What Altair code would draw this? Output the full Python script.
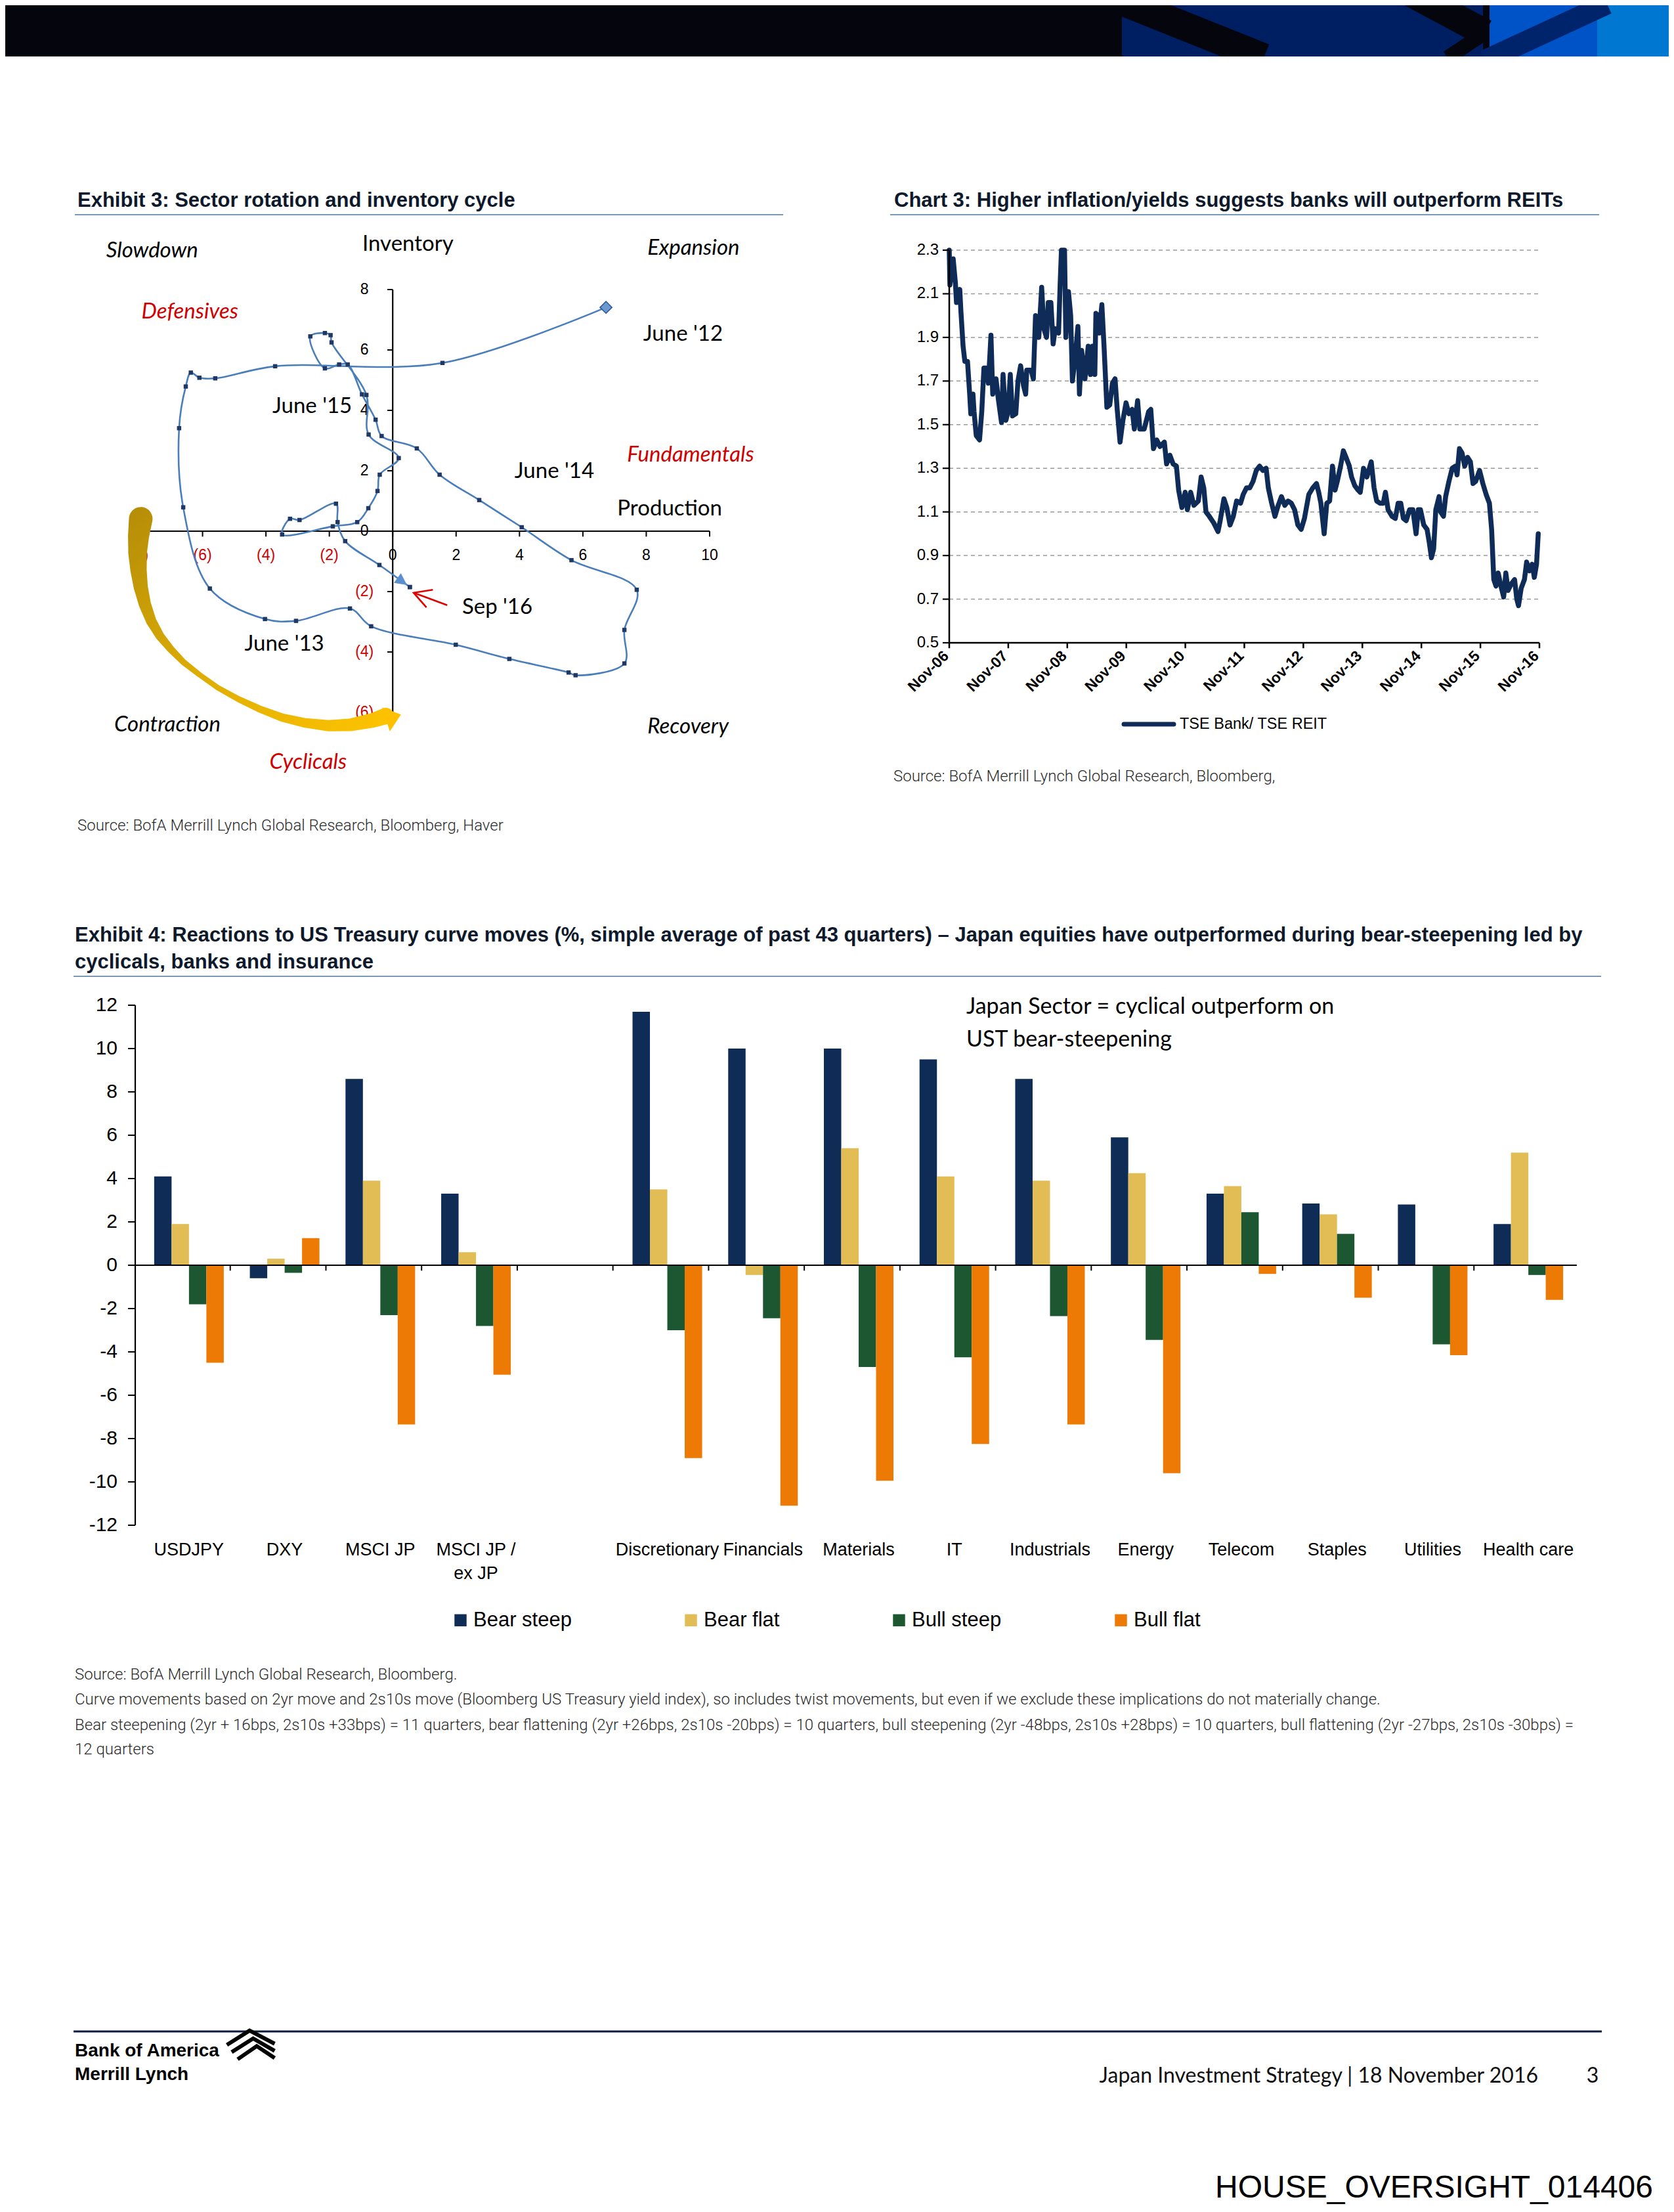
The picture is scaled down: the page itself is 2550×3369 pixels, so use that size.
import altair as alt
import pandas as pd

MARGIN = 8


def P(v):
    """page pixel -> chart pixel"""
    return v - MARGIN


SANS = "Liberation Sans"
HUMAN = "Lato"
SRC_FONT = "Roboto"
RED = "#d00000"
TITLE_C = "#0e1a2b"
RULE_C = "#7b98b8"
SRC_C = "#2a2a2a"

# ---------------- Exhibit 3: inventory cycle (monthly, June '12 -> Sep '16) ----------------
cycle_x = [6.73, 1.57, -3.71, -5.60, -6.10, -6.37, -6.53, -6.74, -6.61, -5.77,
           -4.03, -3.05, -1.35, -0.68, 1.99, 3.68, 5.55, 5.77, 7.31, 7.31,
           7.70, 5.64, 4.07, 2.73, 1.48, 0.76, -0.35, -0.54, -0.97, -1.42,
           -1.69, -2.14, -2.60, -2.14, -1.96, -1.93, -0.83, -0.76, 0.19, -0.41,
           -0.48, -0.77, -1.12, -1.89, -3.49, -3.24, -2.94, -1.79, -1.74, -1.50,
           -0.42, 0.54]
cycle_y = [7.41, 5.57, 5.46, 5.06, 5.08, 5.25, 4.79, 3.41, 0.79, -1.90,
           -2.91, -2.97, -2.56, -3.15, -3.76, -4.23, -4.68, -4.77, -4.38, -3.27,
           -1.94, -0.96, 0.13, 1.03, 1.87, 2.74, 3.15, 3.69, 4.53, 5.52,
           5.52, 5.39, 6.45, 6.56, 6.49, 6.25, 4.51, 3.20, 2.42, 1.87,
           1.33, 0.76, 0.30, 0.16, -0.11, 0.41, 0.37, 0.91, 0.30, -0.33,
           -1.12, -1.85]
e3_xticks = [-8, -6, -4, -2, 0, 2, 4, 6, 8, 10]
e3_xlabels = ["(8)", "(6)", "(4)", "(2)", "0", "2", "4", "6", "8", "10"]
e3_yticks = [-6, -4, -2, 0, 2, 4, 6, 8]
e3_ylabels = ["(6)", "(4)", "(2)", "0", "2", "4", "6", "8"]
E3_XDOM = [-8, 10]
E3_YDOM = [-6, 8]

notes_plain = ["Inventory", "June '12", "June '15", "June '14", "Production", "Sep '16", "June '13"]
notes_plain_x = [0.48, 9.16, -2.54, 5.10, 8.74, 3.30, -3.42]
notes_plain_y = [9.50, 6.53, 4.13, 1.97, 0.74, -2.52, -3.73]
notes_ital = ["Slowdown", "Expansion", "Contraction", "Recovery", "Defensives", "Fundamentals", "Cyclicals"]
notes_ital_x = [-7.59, 9.49, -7.11, 9.32, -6.40, 9.40, -2.67]
notes_ital_y = [9.28, 9.36, -6.42, -6.48, 7.27, 2.53, -7.65]
notes_ital_c = ["black", "black", "black", "black", RED, RED, RED]

# sweeping "cyclicals" arrow (annotation) and red pointer to Sep '16
swoop_x = [-7.95, -8.02, -8.05, -8.02, -7.95, -7.82, -7.62, -7.34, -7.01, -6.61,
           -6.10, -5.52, -4.87, -4.22, -3.49, -2.76, -2.03, -1.31, -0.65, -0.22, 0.26]
swoop_y = [0.41, -0.16, -0.72, -1.29, -1.85, -2.42, -2.98, -3.48, -3.90, -4.33,
           -4.75, -5.18, -5.56, -5.88, -6.17, -6.35, -6.44, -6.41, -6.27, -6.12, -6.07]
pointer_x = [1.72, 0.66]
pointer_y = [-2.45, -2.04]

# ---------------- Chart 3: TSE Bank / TSE REIT (months since Nov-06, ratio) ----------------
c3_points = [
    (0.00, 2.30), (0.13, 2.14), (0.80, 2.26), (1.25, 2.15), (1.47, 2.06), (2.14, 2.12), (2.37, 2.02), (2.81, 1.86), (3.17, 1.79), (3.71, 1.79),
    (4.15, 1.64), (4.38, 1.55), (4.82, 1.64), (5.04, 1.56), (5.49, 1.45), (6.16, 1.43), (6.61, 1.56), (7.05, 1.76), (7.50, 1.76), (7.95, 1.69),
    (8.48, 1.91), (8.84, 1.64), (9.51, 1.71), (9.96, 1.62), (10.63, 1.51), (10.94, 1.73), (11.52, 1.52), (11.96, 1.56), (12.41, 1.73), (12.86, 1.54),
    (13.53, 1.55), (13.97, 1.70), (14.51, 1.77), (15.09, 1.68), (15.54, 1.64), (15.76, 1.75), (16.65, 1.75), (17.10, 1.71), (17.54, 2.00), (18.21, 1.90),
    (18.79, 2.13), (19.24, 1.94), (19.78, 1.90), (20.13, 2.06), (20.67, 2.06), (21.12, 1.87), (21.56, 1.94), (22.23, 1.92), (22.54, 2.14), (22.81, 2.30),
    (23.44, 2.30), (23.71, 1.90), (24.24, 2.11), (24.69, 2.00), (25.04, 1.70), (25.58, 1.80), (26.16, 1.95), (26.47, 1.64), (26.92, 1.84), (27.59, 1.71),
    (28.26, 1.86), (28.71, 1.73), (29.15, 1.86), (29.60, 1.73), (29.82, 2.01), (30.27, 2.00), (30.49, 1.92), (31.03, 2.05), (31.47, 1.86), (32.05, 1.58),
    (32.63, 1.59), (33.17, 1.69), (33.71, 1.71), (34.15, 1.57), (34.73, 1.42), (35.31, 1.52), (35.94, 1.60), (36.52, 1.55), (37.19, 1.57), (37.63, 1.48),
    (38.30, 1.61), (38.75, 1.48), (39.64, 1.48), (40.54, 1.56), (40.98, 1.57), (41.52, 1.39), (42.18, 1.43), (42.85, 1.40), (43.74, 1.42), (44.19, 1.32),
    (44.86, 1.36), (45.52, 1.32), (46.19, 1.31), (46.64, 1.20), (47.31, 1.12), (47.97, 1.19), (48.42, 1.11), (49.08, 1.19), (49.75, 1.13), (50.64, 1.15),
    (51.22, 1.26), (51.75, 1.21), (52.20, 1.10), (52.87, 1.08), (53.76, 1.05), (54.65, 1.01), (55.09, 1.06), (55.85, 1.16), (56.43, 1.12), (57.09, 1.04),
    (57.76, 1.08), (58.43, 1.15), (59.23, 1.14), (59.77, 1.18), (60.43, 1.21), (61.10, 1.21), (61.77, 1.24), (62.43, 1.29), (63.10, 1.31), (63.77, 1.29),
    (64.43, 1.30), (64.88, 1.21), (65.55, 1.14), (66.22, 1.08), (66.89, 1.13), (67.55, 1.17), (68.22, 1.13), (68.89, 1.15), (69.55, 1.14), (70.22, 1.11),
    (70.89, 1.04), (71.56, 1.02), (72.22, 1.07), (73.11, 1.18), (73.91, 1.21), (74.67, 1.23), (75.12, 1.19), (75.56, 1.14), (76.23, 1.00), (76.76, 1.14),
    (77.34, 1.15), (77.92, 1.31), (78.45, 1.20), (78.90, 1.24), (79.57, 1.31), (80.14, 1.38), (80.68, 1.35), (81.35, 1.31), (81.80, 1.26), (82.46, 1.22),
    (83.13, 1.20), (83.57, 1.19), (84.24, 1.30), (84.91, 1.26), (85.80, 1.33), (86.38, 1.21), (86.91, 1.15), (87.58, 1.14), (88.25, 1.14), (88.69, 1.19),
    (89.23, 1.11), (90.03, 1.08), (90.70, 1.07), (91.27, 1.14), (91.81, 1.14), (92.34, 1.07), (92.92, 1.06), (93.59, 1.11), (94.26, 1.11), (94.92, 1.00),
    (95.37, 1.11), (95.81, 1.11), (96.48, 1.04), (97.15, 1.02), (97.60, 0.96), (98.04, 0.89), (98.49, 0.93), (98.93, 1.11), (99.60, 1.17), (99.91, 1.10),
    (100.49, 1.08), (100.93, 1.17), (101.60, 1.24), (102.27, 1.30), (102.93, 1.31), (103.25, 1.27), (103.74, 1.39), (104.27, 1.37), (104.81, 1.31), (105.39, 1.35),
    (105.96, 1.33), (106.50, 1.23), (107.03, 1.24), (107.83, 1.29), (108.50, 1.23), (109.17, 1.18), (109.83, 1.14), (110.28, 1.02), (110.72, 0.79), (111.17, 0.76),
    (111.61, 0.82), (112.28, 0.75), (112.73, 0.71), (113.17, 0.82), (113.62, 0.74), (114.28, 0.77), (114.95, 0.79), (115.40, 0.70), (115.75, 0.67), (116.29, 0.75),
    (116.95, 0.79), (117.40, 0.87), (117.98, 0.83), (118.52, 0.86), (118.96, 0.80), (119.41, 0.86), (119.76, 1.00),
]
c3_yticks = [0.5, 0.7, 0.9, 1.1, 1.3, 1.5, 1.7, 1.9, 2.1, 2.3]
c3_xticks = [0, 12, 24, 36, 48, 60, 72, 84, 96, 108, 120]
c3_xlabels = ["Nov-06", "Nov-07", "Nov-08", "Nov-09", "Nov-10", "Nov-11",
              "Nov-12", "Nov-13", "Nov-14", "Nov-15", "Nov-16"]
C3_XDOM = [0, 120]
C3_YDOM = [0.5, 2.3]

# ---------------- Exhibit 4: reactions to UST curve moves ----------------
e4_cats = ["USDJPY", "DXY", "MSCI JP", "MSCI JP / ex JP", " ", "Discretionary", "Financials",
           "Materials", "IT", "Industrials", "Energy", "Telecom", "Staples", "Utilities", "Health care"]
e4_labels = ["USDJPY", "DXY", "MSCI JP", "MSCI JP /\nex JP", "", "Discretionary", "Financials",
             "Materials", "IT", "Industrials", "Energy", "Telecom", "Staples", "Utilities", "Health care"]
bear_steep = [4.1, -0.6, 8.6, 3.3, None, 11.7, 10.0, 10.0, 9.5, 8.6, 5.9, 3.3, 2.85, 2.8, 1.9]
bear_flat = [1.9, 0.3, 3.9, 0.6, None, 3.5, -0.45, 5.4, 4.1, 3.9, 4.25, 3.65, 2.35, 0.0, 5.2]
bull_steep = [-1.8, -0.35, -2.3, -2.8, None, -3.0, -2.45, -4.7, -4.25, -2.35, -3.45, 2.45, 1.45, -3.65, -0.45]
bull_flat = [-4.5, 1.25, -7.35, -5.05, None, -8.9, -11.1, -9.95, -8.25, -7.35, -9.6, -0.4, -1.5, -4.15, -1.6]
e4_series = ["Bear steep", "Bear flat", "Bull steep", "Bull flat"]
e4_colors = ["#0f2c56", "#e2bc54", "#1c5732", "#ec7a05"]
e4_yticks = [-12, -10, -8, -6, -4, -2, 0, 2, 4, 6, 8, 10, 12]
e4_ylabels = ["-12", "-10", "-8", "-6", "-4", "-2", "0", "2", "4", "6", "8", "10", "12"]
E4_YDOM = [-12, 12]

# ======================================================================
ONE = pd.DataFrame({"k": [0]})


def rect_px(x1, x2, y1, y2, color):
    return alt.Chart(ONE).mark_rect(color=color).encode(
        x=alt.value(P(x1)), x2=alt.value(P(x2)), y=alt.value(P(y1)), y2=alt.value(P(y2)))


def rule_px(x1, x2, y1, y2, color, width, cap="butt"):
    return alt.Chart(ONE).mark_rule(color=color, strokeWidth=width, strokeCap=cap).encode(
        x=alt.value(P(x1)), x2=alt.value(P(x2)), y=alt.value(P(y1)), y2=alt.value(P(y2)))


def txt(s, x, y, size, font=SANS, color="black", weight="normal", align="left",
        style="normal", baseline="middle"):
    return alt.Chart(pd.DataFrame({"t": [s]})).mark_text(
        font=font, fontSize=size, color=color, fontWeight=weight, align=align,
        fontStyle=style, baseline=baseline).encode(
        x=alt.value(P(x)), y=alt.value(P(y)), text="t:N")


def title_txt(s, x, y):
    return txt(s, x, y, 31, font=SANS, color=TITLE_C, weight="bold")


def src_txt(s, x, y):
    return txt(s, x, y, 24, font=SRC_FONT, color=SRC_C, weight=300)


layers = []

# ---------------- page header ----------------
BLACK = "#05050e"
layers += [
    rect_px(0, 2560, 0, 86, BLACK),
    rect_px(1709, 2269, 0, 86, "#001f63"),
    rect_px(2269, 2433, 0, 86, "#0053c6"),
    rect_px(2433, 2560, 0, 86, "#0077d1"),
    rule_px(1685, 1925, -8, 88, BLACK, 44),
    rule_px(2150, 2262, -10, 50, BLACK, 42),
    rule_px(2262, 2205, 50, 88, BLACK, 22),
    rect_px(2259, 2269, 0, 86, BLACK),
    rule_px(2262, 2448, 92, 6, "#00246c", 32),
    rect_px(0, 2560, 86, 118, "white"),
]

# ---------------- Exhibit 3 ----------------
X3 = alt.Scale(domain=E3_XDOM, range=[P(212), P(1081)])
Y3 = alt.Scale(domain=E3_YDOM, range=[P(1085), P(441)])


def x3(f):
    return alt.X(f, type="quantitative", scale=X3, axis=None)


def y3(f):
    return alt.Y(f, type="quantitative", scale=Y3, axis=None)


cyc = pd.DataFrame({"i": list(range(len(cycle_x))), "x": cycle_x, "y": cycle_y})
n_cyc = len(cycle_x)
xt = pd.DataFrame({"v": e3_xticks, "lab": e3_xlabels})
yt = pd.DataFrame({"v": e3_yticks, "lab": e3_ylabels})
axes3 = pd.DataFrame({"a": [E3_XDOM[0]], "b": [E3_XDOM[1]], "c": [E3_YDOM[0]], "d": [E3_YDOM[1]], "z": [0]})

e3_layers = [
    alt.Chart(axes3).mark_rule(color="black", strokeWidth=2.2).encode(x=x3("a"), x2="b", y=y3("z")),
    alt.Chart(axes3).mark_rule(color="black", strokeWidth=2.2).encode(x=x3("z"), y=y3("c"), y2="d"),
    alt.Chart(xt).transform_calculate(z="0", z2="-0.18").mark_rule(color="black", strokeWidth=2).encode(
        x=x3("v"), y=y3("z"), y2="z2"),
    alt.Chart(yt).transform_calculate(z="0", z2="-0.17").mark_rule(color="black", strokeWidth=2).encode(
        x=x3("z"), x2="z2", y=y3("v")),
    alt.Chart(xt).transform_calculate(z="0").mark_text(font=SANS, fontSize=23, baseline="middle", dy=37).encode(
        x=x3("v"), y=y3("z"), text="lab:N",
        color=alt.condition(alt.datum.v < 0, alt.value(RED), alt.value("black"))),
    alt.Chart(yt).transform_calculate(z="0").mark_text(font=SANS, fontSize=23, baseline="middle", dx=-43).encode(
        x=x3("z"), y=y3("v"), text="lab:N",
        color=alt.condition(alt.datum.v < 0, alt.value(RED), alt.value("black"))),
    alt.Chart(cyc).mark_line(interpolate="catmull-rom", color="#4a7ebb", strokeWidth=2.6).encode(
        x=x3("x"), y=y3("y"), order="i:Q"),
    alt.Chart(cyc).transform_filter("datum.i > 0").mark_square(size=42, color="#1f3864", opacity=1).encode(
        x=x3("x"), y=y3("y")),
    alt.Chart(cyc).transform_filter("datum.i == 0").mark_point(
        shape="diamond", filled=True, size=330, fill="#6a98cf", stroke="#2f5597", strokeWidth=1.5, opacity=1).encode(
        x=x3("x"), y=y3("y")),
    alt.Chart(cyc).transform_filter(f"datum.i == {n_cyc - 1}").mark_point(
        shape="M-0.6,0L-2.6,-1L-2.6,1Z", filled=True, size=324, angle=36, color="#5b8fd0", opacity=1).encode(
        x=x3("x"), y=y3("y")),
    alt.Chart(cyc).transform_filter(f"datum.i == {n_cyc - 1}").mark_square(size=42, color="#1f3864", opacity=1).encode(
        x=x3("x"), y=y3("y")),
    alt.Chart(pd.DataFrame({"t": notes_plain, "x": notes_plain_x, "y": notes_plain_y})).mark_text(
        font=HUMAN, fontSize=33, baseline="middle", color="black").encode(x=x3("x"), y=y3("y"), text="t:N"),
    alt.Chart(pd.DataFrame({"t": notes_ital, "x": notes_ital_x, "y": notes_ital_y, "c": notes_ital_c})).mark_text(
        font=HUMAN, fontSize=33, baseline="middle", fontStyle="italic").encode(
        x=x3("x"), y=y3("y"), text="t:N", color=alt.Color("c:N", scale=None)),
]
ptr = pd.DataFrame({"x": [pointer_x[0]], "x2": [pointer_x[1]], "y": [pointer_y[0]], "y2": [pointer_y[1]]})
e3_layers += [
    alt.Chart(ptr).mark_rule(color="#e00000", strokeWidth=2.6).encode(x=x3("x"), x2="x2", y=y3("y"), y2="y2"),
    alt.Chart(ptr).mark_point(shape="M2,-1.1L0,0L2,1.1", filled=False, size=676, angle=20,
                              color="#e00000", strokeWidth=2.6, opacity=1).encode(x=x3("x2"), y=y3("y2")),
]
sw = pd.DataFrame({"i": list(range(len(swoop_x))), "x": swoop_x, "y": swoop_y})
n_sw = len(swoop_x)
grad = alt.Gradient(gradient="linear", x1=0, y1=0, x2=1, y2=1,
                    stops=[alt.GradientStop(color="#b48c08", offset=0),
                           alt.GradientStop(color="#d9aa05", offset=0.45),
                           alt.GradientStop(color="#ffc400", offset=1)])
e3_layers += [
    alt.Chart(sw).transform_filter(f"datum.i < {n_sw - 1}").transform_calculate(
        t=f"datum.i / {n_sw - 2}",
        w="datum.t < 0.55 ? 8 + 28*pow((0.55-datum.t)/0.55, 1.5) : 8 + 17*pow((datum.t-0.55)/0.45, 1.5)",
    ).mark_trail(color=grad).encode(x=x3("x"), y=y3("y"), order="i:Q",
                                    size=alt.Size("w:Q", scale=None, legend=None)),
    alt.Chart(sw).transform_filter(f"datum.i == {n_sw - 1}").mark_point(
        shape="M0,0L-2,-1.6L-2,1.6Z", filled=True, size=576, angle=342, color="#ffc000", opacity=1).encode(
        x=x3("x"), y=y3("y")),
]
layers.append(alt.layer(*e3_layers))

# ---------------- Chart 3 ----------------
X5 = alt.Scale(domain=C3_XDOM, range=[P(1446), P(2345)])
Y5 = alt.Scale(domain=C3_YDOM, range=[P(979), P(381)])


def x5(f):
    return alt.X(f, type="quantitative", scale=X5, axis=None)


def y5(f):
    return alt.Y(f, type="quantitative", scale=Y5, axis=None)


c3 = pd.DataFrame(c3_points, columns=["m", "v"])
c3yt = pd.DataFrame({"v": c3_yticks})
c3xt = pd.DataFrame({"m": c3_xticks, "lab": c3_xlabels})
ax5 = pd.DataFrame({"a": [C3_XDOM[0]], "b": [C3_XDOM[1]], "c": [C3_YDOM[0]], "d": [C3_YDOM[1]]})
LINE_C = "#0e2c57"
c3_layers = [
    alt.Chart(c3yt).transform_filter(f"datum.v > {C3_YDOM[0]}").transform_calculate(
        a=str(C3_XDOM[0]), b=str(C3_XDOM[1])).mark_rule(
        color="#9a9a9a", strokeWidth=1.5, strokeDash=[6, 5]).encode(x=x5("a"), x2="b", y=y5("v")),
    alt.Chart(c3).mark_line(color=LINE_C, strokeWidth=7.5, strokeJoin="round", strokeCap="round").encode(
        x=x5("m"), y=y5("v")),
    alt.Chart(ax5).mark_rule(color="black", strokeWidth=2.5).encode(x=x5("a"), y=y5("c"), y2="d"),
    alt.Chart(ax5).mark_rule(color="black", strokeWidth=2.5).encode(x=x5("a"), x2="b", y=y5("c")),
    alt.Chart(c3yt).transform_calculate(a="0", a2="-1.35").mark_rule(color="black", strokeWidth=2.2).encode(
        x=x5("a"), x2="a2", y=y5("v")),
    alt.Chart(c3xt).transform_calculate(y0=str(C3_YDOM[0]), y1=f"{C3_YDOM[0]} - 0.025").mark_rule(
        color="black", strokeWidth=2.5).encode(x=x5("m"), y=y5("y0"), y2="y1"),
    alt.Chart(c3yt).transform_calculate(a="0").mark_text(
        font=SANS, fontSize=24, align="right", baseline="middle", dx=-16).encode(
        x=x5("a"), y=y5("v"), text=alt.Text("v:Q", format=".1f")),
    alt.Chart(c3xt).transform_calculate(xx="datum.m - 0.6", yy=f"{C3_YDOM[0]} - 0.05").mark_text(
        font=SANS, fontSize=23, fontWeight="bold", align="right", baseline="middle", angle=315).encode(
        x=x5("xx"), y=y5("yy"), text="lab:N"),
]
layers.append(alt.layer(*c3_layers))
layers += [
    rule_px(1712, 1788, 1103, 1103, LINE_C, 7, cap="round"),
    txt("TSE Bank/ TSE REIT", 1797, 1103, 23.5, font=SANS),
]

# ---------------- Exhibit 4 ----------------
X4 = alt.Scale(domain=e4_cats, range=[P(215), P(2401)], paddingInner=0.2725, paddingOuter=0.13625)
Y4 = alt.Scale(domain=E4_YDOM, range=[P(2323), P(1531)])

rows = []
for name, vals in zip(e4_series, [bear_steep, bear_flat, bull_steep, bull_flat]):
    for c, v in zip(e4_cats, vals):
        if v is not None:
            rows.append({"cat": c, "series": name, "val": v})
e4 = pd.DataFrame(rows)

legend4 = alt.Legend(orient="none", legendX=P(686), legendY=P(2452), direction="horizontal", title=None,
                     symbolType="square", symbolSize=340, labelFont=SANS, labelFontSize=31,
                     labelColor="black", columnPadding=166, labelOffset=4, labelLimit=500,
                     padding=0, symbolStrokeWidth=0, symbolOpacity=1)


def y4(f):
    return alt.Y(f, type="quantitative", scale=Y4, axis=None)


e4yt = pd.DataFrame({"v": e4_yticks, "lab": e4_ylabels})
e4_layers = [
    alt.Chart(e4).mark_bar().encode(
        x=alt.X("cat:N", scale=X4, axis=None),
        xOffset=alt.XOffset("series:N", scale=alt.Scale(domain=e4_series)),
        y=y4("val"),
        color=alt.Color("series:N", scale=alt.Scale(domain=e4_series, range=e4_colors), legend=legend4)),
    alt.Chart(pd.DataFrame({"a": [E4_YDOM[0]], "b": [E4_YDOM[1]], "z": [0]})).mark_rule(
        color="black", strokeWidth=2.2).encode(x=alt.value(P(206)), y=y4("a"), y2="b"),
    alt.Chart(pd.DataFrame({"z": [0]})).mark_rule(color="black", strokeWidth=2.2).encode(
        x=alt.value(P(205)), x2=alt.value(P(2402)), y=y4("z")),
    alt.Chart(e4yt).mark_rule(color="black", strokeWidth=2).encode(
        x=alt.value(P(195)), x2=alt.value(P(206)), y=y4("v")),
    alt.Chart(e4yt).mark_text(font=SANS, fontSize=30, align="right", baseline="middle").encode(
        x=alt.value(P(179)), y=y4("v"), text="lab:N"),
    alt.Chart(pd.DataFrame({"cat": e4_cats[1:]})).transform_calculate(z="0", z2="-0.25").mark_rule(
        color="black", strokeWidth=2, xOffset=-29.86).encode(
        x=alt.X("cat:N", scale=X4, axis=None, bandPosition=0), y=y4("z"), y2="z2"),
    alt.Chart(pd.DataFrame({"cat": e4_cats, "lab": e4_labels})).mark_text(
        font=SANS, fontSize=27, baseline="top", lineBreak="\n", lineHeight=36).encode(
        x=alt.X("cat:N", scale=X4, axis=None), y=alt.value(P(2348)), text="lab:N"),
]
layers.append(alt.layer(*e4_layers))
layers += [
    txt("Japan Sector = cyclical outperform on", 1472, 1534, 34, font=HUMAN),
    txt("UST bear-steepening", 1472, 1584, 34, font=HUMAN),
]

# ---------------- titles, rules, sources ----------------
layers += [
    title_txt("Exhibit 3: Sector rotation and inventory cycle", 118, 306),
    rule_px(114, 1193, 327, 327, RULE_C, 2),
    title_txt("Chart 3: Higher inflation/yields suggests banks will outperform REITs", 1362, 306),
    rule_px(1356, 2436, 327, 327, RULE_C, 2),
    src_txt("Source: BofA Merrill Lynch Global Research, Bloomberg, Haver", 118, 1258),
    src_txt("Source: BofA Merrill Lynch Global Research, Bloomberg,", 1361, 1183),
    title_txt("Exhibit 4: Reactions to US Treasury curve moves (%, simple average of past 43 quarters) \u2013 "
              "Japan equities have outperformed during bear-steepening led by", 114, 1425),
    title_txt("cyclicals, banks and insurance", 114, 1466),
    rule_px(112, 2439, 1487, 1487, RULE_C, 2),
    src_txt("Source: BofA Merrill Lynch Global Research, Bloomberg.", 114, 2551),
    src_txt("Curve movements based on 2yr move  and 2s10s move (Bloomberg US Treasury yield index), so includes "
            "twist movements, but even if we exclude these implications do not materially change.", 114, 2589),
    src_txt("Bear steepening (2yr + 16bps, 2s10s +33bps) = 11 quarters, bear flattening (2yr +26bps, 2s10s -20bps) "
            "= 10 quarters, bull steepening (2yr -48bps, 2s10s +28bps) = 10 quarters, bull flattening "
            "(2yr -27bps, 2s10s -30bps) =", 114, 2628),
    src_txt("12 quarters", 114, 2665),
]

# ---------------- footer ----------------
layers += [
    rule_px(112, 2440, 3094, 3094, "#0b1a3c", 3),
    txt("Bank of America", 114, 3124, 28, font=SANS, weight="bold"),
    txt("Merrill Lynch", 114, 3160, 28, font=SANS, weight="bold"),
    alt.Chart(ONE).mark_point(
        shape="M-1,-0.15L-0.05,-0.75L1,-0.2M-0.8,0.15L0.1,-0.42L1,0.1M-0.55,0.45L0.25,-0.1L1,0.4",
        filled=False, size=5300, color="black", strokeWidth=6, opacity=1).encode(
        x=alt.value(P(382)), y=alt.value(P(3120))),
    txt("Japan Investment Strategy | 18 November 2016", 2343, 3162, 32, font=HUMAN, align="right", color="#111111"),
    txt("3", 2426, 3162, 32, font=HUMAN, align="center", color="#111111"),
    txt("HOUSE_OVERSIGHT_014406", 2518, 3333, 48, font=SANS, align="right"),
]

chart = alt.layer(*layers).resolve_scale(x="independent", y="independent").properties(
    width=2534, height=3353, padding=0, autosize=alt.AutoSizeParams(type="none"),
    background="white",
).configure_view(stroke=None)

chart.save("out.html", embed_options={"renderer": "svg", "actions": False})
